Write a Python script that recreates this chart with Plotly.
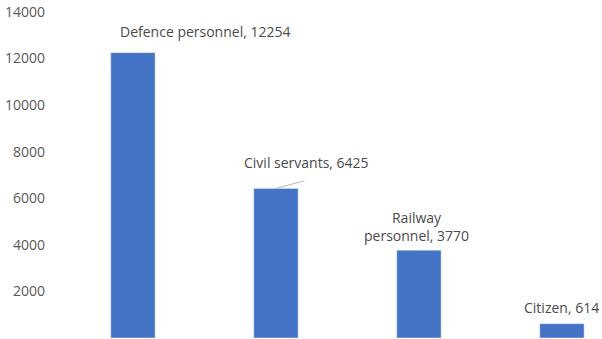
import plotly.graph_objects as go

categories = ["Defence personnel", "Civil servants", "Railway personnel", "Citizen"]
label_names = ["Defence personnel", "Civil servants", "Railway<br>personnel", "Citizen"]
values = [12254, 6425, 3770, 614]
y_ticks = [0, 2000, 4000, 6000, 8000, 10000, 12000, 14000]
y_tick_text = [str(t) for t in y_ticks]

# label offsets in pixels relative to bar top
label_xshift = [72, 31, -2, 0]
label_yshift = [21, 26, 24, 16]

FONT = "Open Sans"
BAR = "#4472C4"
GREY = "#595959"

x_idx = list(range(len(categories)))
fig = go.Figure()
fig.add_trace(go.Bar(x=x_idx, y=values, marker=dict(color=BAR), width=0.31,
                     hoverinfo="skip"))

for i, (name, v) in enumerate(zip(label_names, values)):
    fig.add_annotation(x=i, y=v, xref="x", yref="y", text=f"{name}, {v}",
                       showarrow=False, xshift=label_xshift[i], yshift=label_yshift[i],
                       font=dict(family=FONT, size=14, color="#4a4a4a"), align="center")

# leader line for Civil servants label
fig.add_annotation(x=1, y=values[1], xref="x", yref="y", text="", showarrow=True,
                   ax=30, ay=-8, arrowhead=0, arrowwidth=0.8, arrowcolor="#A6A6A6",
                   standoff=0, startstandoff=0)

fig.update_layout(
    width=602, height=339,
    margin=dict(l=61, r=0, t=12, b=0),
    plot_bgcolor="white", paper_bgcolor="white",
    showlegend=False,
    xaxis=dict(range=[-0.503, 3.28], showticklabels=False, showgrid=False,
               zeroline=False, showline=False, ticks=""),
    yaxis=dict(range=[-43, 14000], tickvals=y_ticks, ticktext=y_tick_text,
               showgrid=False, zeroline=False,
               showline=False, ticks="", ticklabelstandoff=15, automargin=False,
               tickfont=dict(family=FONT, size=14, color=GREY)),
)

fig.write_html("out.html")
